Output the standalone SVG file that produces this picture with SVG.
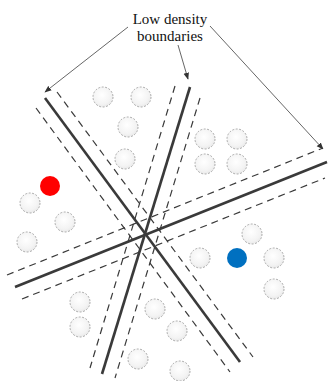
<svg xmlns="http://www.w3.org/2000/svg" width="330" height="381" viewBox="0 0 330 381">
  <defs>
    <radialGradient id="g" cx="0.45" cy="0.4" r="0.65">
      <stop offset="0" stop-color="#ffffff"/>
      <stop offset="0.7" stop-color="#f3f3f3"/>
      <stop offset="1" stop-color="#e6e6e6"/>
    </radialGradient>
    <marker id="ah" viewBox="0 0 10 10" refX="9" refY="5" markerWidth="7" markerHeight="7" orient="auto" markerUnits="userSpaceOnUse">
      <path d="M0,1 L10,5 L0,9 z" fill="#333"/>
    </marker>
  </defs>
  <style>
    .pt { fill: url(#g); stroke: #a0a0a0; stroke-width: 0.9; stroke-dasharray: 2 1.5; }
    .solid { stroke: #3a3a3a; stroke-width: 2.6; fill: none; }
    .dash { stroke: #3a3a3a; stroke-width: 1.2; stroke-dasharray: 7 5; fill: none; }
    .arr { stroke: #555; stroke-width: 0.9; fill: none; marker-end: url(#ah); }
    .lbl { font-family: "Liberation Serif", "Times New Roman", serif; font-size: 15px; fill: #111; text-anchor: middle; }
  </style>

  <g id="connectors">
    <line class="dash" x1="36" y1="108" x2="230" y2="372"/>
    <line class="dash" x1="57" y1="92" x2="253" y2="357"/>
    <line class="solid" x1="45" y1="98" x2="240" y2="362"/>

    <line class="dash" x1="175" y1="86" x2="90" y2="368"/>
    <line class="dash" x1="200" y1="98" x2="115" y2="378"/>
    <line class="solid" x1="190" y1="87" x2="102" y2="374"/>

    <line class="dash" x1="7" y1="275" x2="323" y2="148"/>
    <line class="dash" x1="22" y1="299" x2="325" y2="178"/>
    <line class="solid" x1="15" y1="287" x2="327" y2="162"/>

    <line class="arr" x1="128" y1="27" x2="45" y2="92"/>
    <line class="arr" x1="178" y1="45" x2="188" y2="79"/>
    <line class="arr" x1="210" y1="26" x2="323" y2="149"/>
  </g>

  <g id="label">
    <text class="lbl" x="170" y="24">Low density</text>
    <text class="lbl" x="170" y="41">boundaries</text>
  </g>

  <g id="points">
    <circle class="pt" cx="103" cy="97" r="10"/>
    <circle class="pt" cx="141" cy="97" r="10"/>
    <circle class="pt" cx="128" cy="127" r="10"/>
    <circle class="pt" cx="125" cy="159" r="10"/>
    <circle class="pt" cx="205" cy="139" r="10"/>
    <circle class="pt" cx="237" cy="139" r="10"/>
    <circle class="pt" cx="205" cy="164" r="10"/>
    <circle class="pt" cx="237" cy="164" r="10"/>
    <circle class="pt" cx="30" cy="203" r="10"/>
    <circle class="pt" cx="65" cy="222" r="10"/>
    <circle class="pt" cx="27" cy="242" r="10"/>
    <circle class="pt" cx="252" cy="234" r="10"/>
    <circle class="pt" cx="200" cy="258" r="10"/>
    <circle class="pt" cx="274" cy="258" r="10"/>
    <circle class="pt" cx="274" cy="289" r="10"/>
    <circle class="pt" cx="80" cy="302" r="10"/>
    <circle class="pt" cx="80" cy="327" r="10"/>
    <circle class="pt" cx="155" cy="309" r="10"/>
    <circle class="pt" cx="177" cy="331" r="10"/>
    <circle class="pt" cx="138" cy="359" r="10"/>
    <circle class="pt" cx="180" cy="371" r="10"/>
  </g>
  <g id="red-point">
    <circle cx="50" cy="186" r="10" fill="#ff0000"/>
  </g>
  <g id="blue-point">
    <circle cx="237" cy="258" r="10" fill="#0070c0"/>
  </g>
</svg>
